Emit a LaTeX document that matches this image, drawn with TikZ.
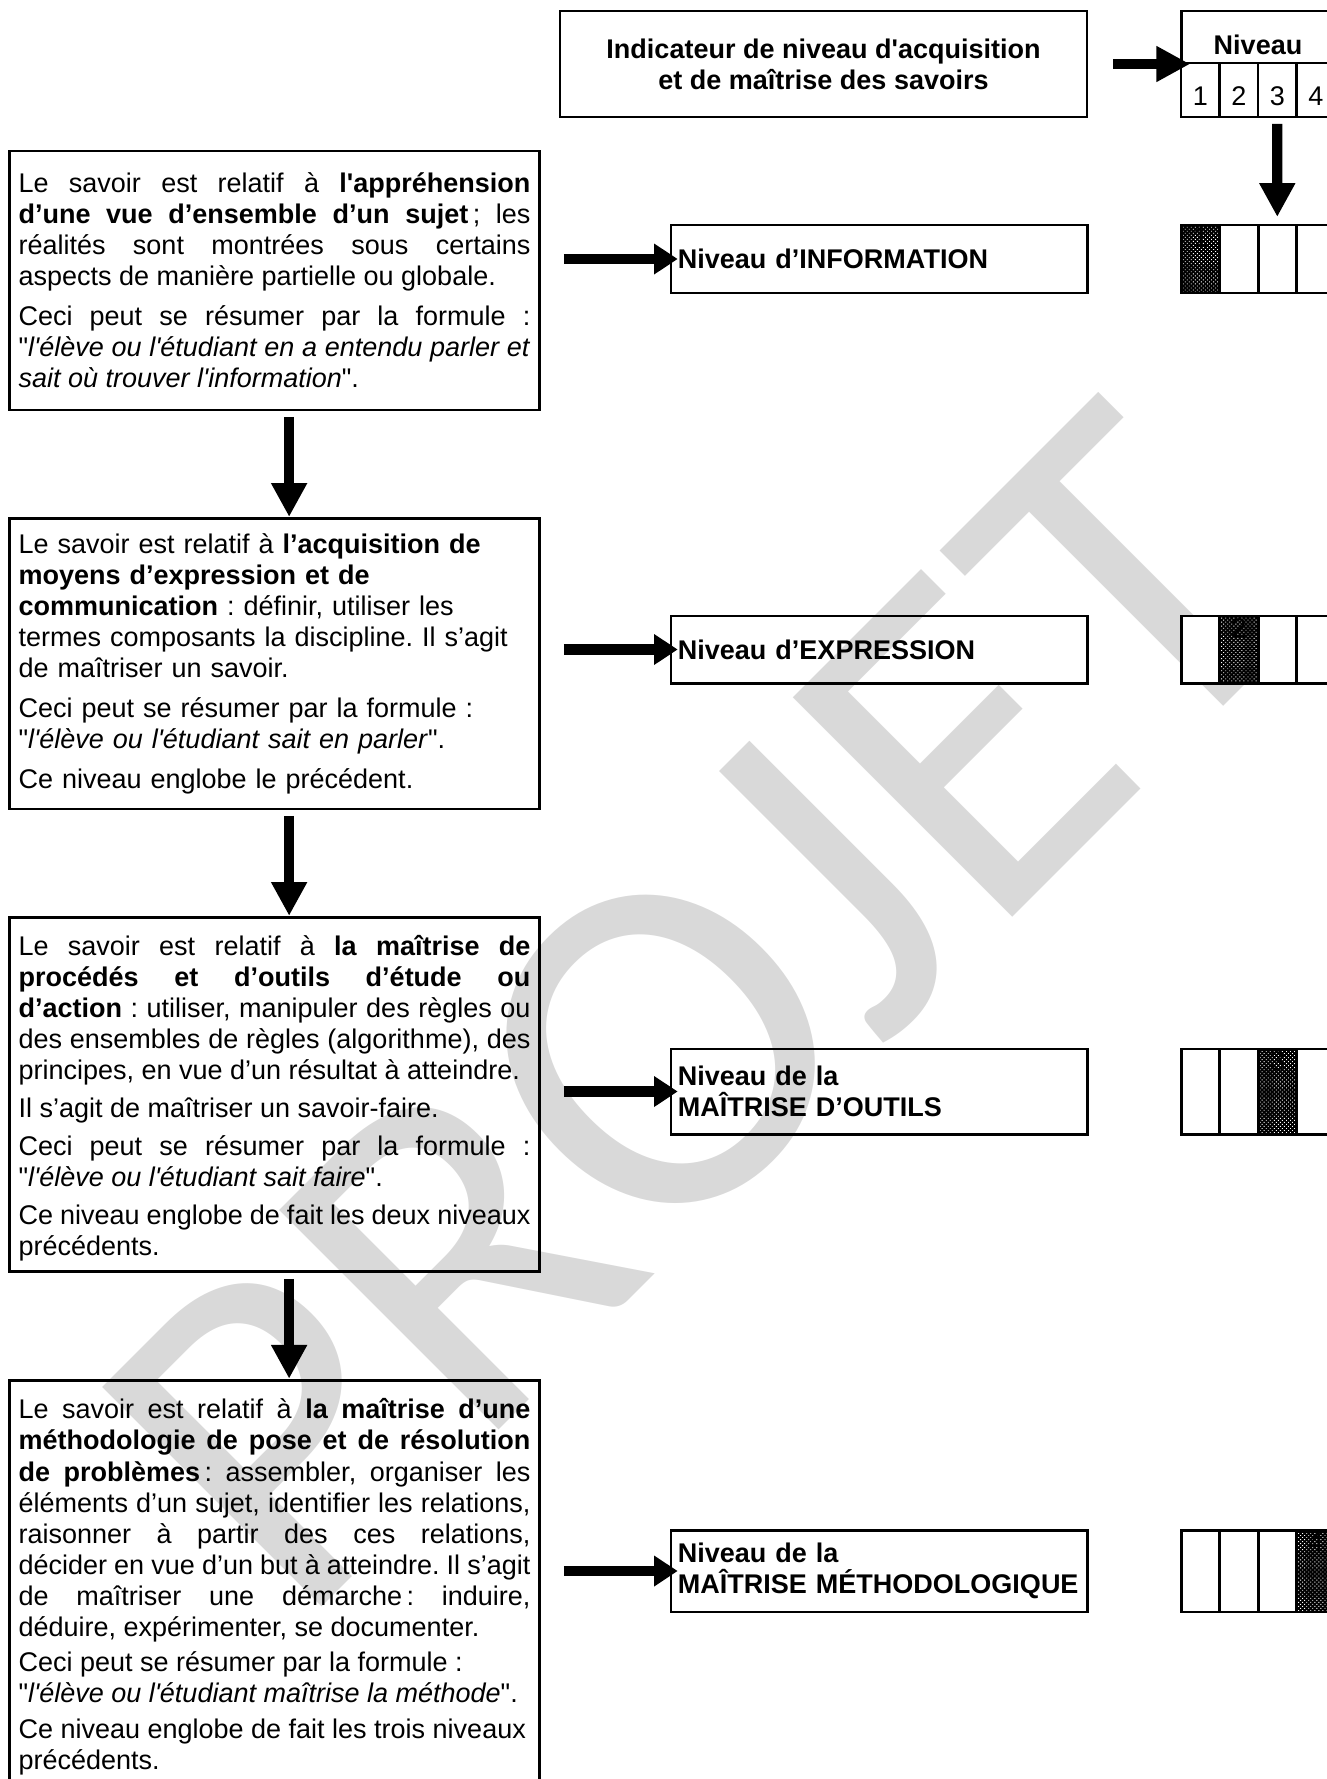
\documentclass[tikz,border=0pt]{standalone}
\usepackage{fontspec}
\setmainfont{Liberation Sans}
\newfontfamily\wmfont{Carlito}
\usetikzlibrary{arrows.meta,positioning,patterns}

\newcommand{\sq}{\textquotesingle}
\newcommand{\dq}{\textquotedbl}
\frenchspacing
\hyphenpenalty=10000
\exhyphenpenalty=10000
\tolerance=10000
\hbadness=10000

\pgfdeclarepatternformonly{halftone}{\pgfqpoint{-0.1pt}{-0.1pt}}{\pgfqpoint{1.9pt}{1.9pt}}{\pgfqpoint{1.8pt}{1.8pt}}{%
  \pgfpathrectangle{\pgfqpoint{0pt}{0pt}}{\pgfqpoint{0.4pt}{0.4pt}}%
  \pgfpathrectangle{\pgfqpoint{0.9pt}{0.9pt}}{\pgfqpoint{0.4pt}{0.4pt}}%
  \pgfusepath{fill}}

\begin{document}
\begin{tikzpicture}[x=0.4444pt,y=-0.4444pt,>={Triangle[length=15pt,width=15pt]},
  font=\fontsize{12}{13.8}\selectfont,node distance=48.4pt]
\tikzstyle{box}=[draw,line width=1.3pt,outer sep=0pt]
\tikzstyle{savoir}=[box,text width=227.5pt,inner xsep=4.2pt,inner ysep=0pt,align=justify,
  execute at begin node={\setlength{\parskip}{4pt}}]
\tikzstyle{niveau}=[box,text width=178.7pt,inner xsep=3.1pt,align=left]
\tikzstyle{cell}=[box,fill=white,minimum width=17.1pt,inner sep=0pt]
\tikzstyle{fleche}=[->,line width=4.6pt]
\tikzstyle{pointe}=[-{Triangle[length=10.5pt,width=13pt]},line width=4.6pt,shorten <=10.7pt,shorten >=-3pt]

\useasboundingbox (0,0) rectangle (1327,1779);
\node[rotate=45,text=black!15,font=\wmfont\fontsize{215}{215}\selectfont] (wm) at (700,1010) {PROJET};

\node[box,minimum width=234.2pt,minimum height=47.1pt,align=center] (hdr) at (823.5,64)
  {\bfseries Indicateur de niveau d\sq acquisition\\\bfseries et de maîtrise des savoirs};
\node[box,minimum width=68.4pt,minimum height=47.1pt] (niv) at (1258,64) {};
\node (nivlab) at (1258,45) {\bfseries Niveau};
\foreach \c in {1,...,4}{
  \node[cell,minimum height=24pt] (n\c) at ({1181+38.5*(\c-0.5)},90) {};
  \path (n\c) ++(0,6) node {\c};
}

\node[savoir,minimum height=115.1pt,anchor=north] (s1) at (274.5,151) {%
Le savoir est relatif à \textbf{l\sq appréhension}\linebreak
\textbf{d’une vue d’ensemble d’un sujet}\,; les\linebreak
réalités sont montrées sous certains\linebreak
aspects de manière partielle ou globale.\par
Ceci peut se résumer par la formule :\linebreak
\dq\textit{l\sq élève ou l\sq étudiant en a entendu parler et}\linebreak
\textit{sait où trouver l\sq information}\dq.};

\node[savoir,minimum height=128.9pt,align=left,below=of s1] (s2) {%
Le savoir est relatif à \textbf{l’acquisition de}\\
\textbf{moyens d’expression et de}\\
\textbf{communication} : définir, utiliser les\\
termes composants la discipline. Il s’agit\\
de maîtriser un savoir.\par
Ceci peut se résumer par la formule :\\
\dq\textit{l\sq élève ou l\sq étudiant sait en parler}\dq.\par
Ce niveau englobe le précédent.};

\node[savoir,minimum height=157.3pt,below=of s2,
  execute at begin node={\setlength{\parskip}{3pt}}] (s3) {%
\rule{0pt}{12pt}Le savoir est relatif à \textbf{la maîtrise de}\linebreak
\textbf{procédés et d’outils d’étude ou}\linebreak
\textbf{d’action} : utiliser, manipuler des règles ou\linebreak
des ensembles de règles (algorithme), des\linebreak
principes, en vue d’un résultat à atteindre.\par
Il s’agit de maîtriser un savoir-faire.\par
Ceci peut se résumer par la formule :\linebreak
\dq\textit{l\sq élève ou l\sq étudiant sait faire}\dq.\par
Ce niveau englobe de fait les deux niveaux\\
précédents.};

\node[savoir,inner ysep=8pt,below=of s3,
  execute at begin node={\setlength{\parskip}{2pt}}] (s4) {%
Le savoir est relatif à \textbf{la maîtrise d’une}\linebreak
\textbf{méthodologie de pose et de résolution}\linebreak
\textbf{de problèmes}\,: assembler, organiser les\linebreak
éléments d’un sujet, identifier les relations,\linebreak
raisonner à partir des ces relations,\linebreak
décider en vue d’un but à atteindre. Il s’agit\linebreak
de maîtriser une démarche\,: induire,\linebreak
déduire, expérimenter, se documenter.\par
Ceci peut se résumer par la formule :\\
\dq\textit{l\sq élève ou l\sq étudiant maîtrise la méthode}\dq.\par
Ce niveau englobe de fait les trois niveaux\\
précédents.};

\node[niveau,minimum height=30.2pt] (r1) at (879,259) {\bfseries Niveau d’INFORMATION};
\node[niveau,minimum height=29.8pt] (r2) at (879,649.5) {\bfseries Niveau d’EXPRESSION};
\node[niveau,minimum height=37.8pt] (r3) at (879,1091.5) {\bfseries Niveau de la\\\bfseries MAÎTRISE D’OUTILS};
\node[niveau,minimum height=36.4pt] (r4) at (879,1571) {\bfseries Niveau de la\\\bfseries MAÎTRISE MÉTHODOLOGIQUE};

\foreach \r/\h in {1/30.2,2/29.8,3/37.8,4/36.4}{
  \node[cell,minimum height=\h pt,right=41.8pt of r\r] (b\r1) {};
  \foreach \c [remember=\c as \p (initially 1)] in {2,3,4}
    \node[cell,minimum height=\h pt,right=0pt of b\r\p] (b\r\c) {};
  \fill[black] (b\r\r.north west) rectangle (b\r\r.south east);
  \fill[pattern=halftone,pattern color=white] (b\r\r.north west) rectangle (b\r\r.south east);
  \draw[line width=1.3pt] (b\r\r.north west) rectangle (b\r\r.south east);
  \node[anchor=north,inner sep=1pt] at (b\r\r.north) {\r};
}

\draw[fleche,shorten <=11.6pt,shorten >=-4pt] (hdr) -- (niv);
\draw[fleche,shorten <=3.1pt,shorten >=3.6pt] (n3) -- (b13);
\draw[fleche,shorten <=3.1pt,shorten >=0.9pt] ([xshift=6.5pt]s1.south) -- ([xshift=6.5pt]s2.north);
\draw[fleche,shorten <=3.1pt,shorten >=0.9pt] ([xshift=6.5pt]s2.south) -- ([xshift=6.5pt]s3.north);
\draw[fleche,shorten <=3.1pt,shorten >=0.9pt] ([xshift=6.5pt]s3.south) -- ([xshift=6.5pt]s4.north);
\draw[pointe] (s1.east |- r1.west) -- (r1.west);
\draw[pointe] (s2.east |- r2.west) -- (r2.west);
\draw[pointe] (s3.east |- r3.west) -- (r3.west);
\draw[pointe] (s4.east |- r4.west) -- (r4.west);
\end{tikzpicture}
\end{document}
